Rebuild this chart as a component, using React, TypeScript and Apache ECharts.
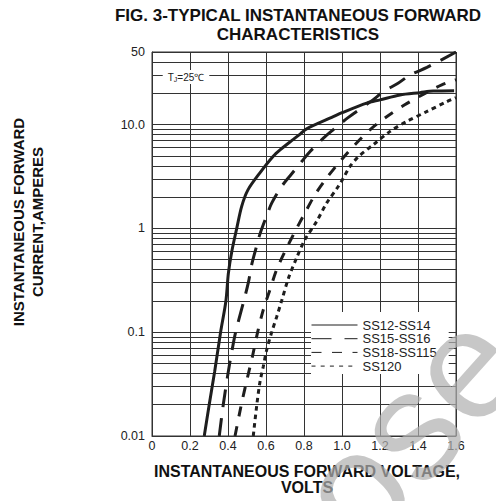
import React, { useEffect, useRef } from "react";
import * as echarts from "echarts";

const FONT = "'Liberation Sans', Arial, Helvetica, sans-serif";

const seriesNames = ["SS12-SS14", "SS15-SS16", "SS18-SS115", "SS120"];

// [forward voltage (V), forward current (A)]
const ss12Data: [number, number][] = [
  [0.275, 0.01], [0.3, 0.0195], [0.33, 0.042], [0.361, 0.1], [0.389, 0.2],
  [0.402, 0.37], [0.42, 0.6], [0.446, 1.0], [0.472, 1.63], [0.505, 2.35],
  [0.568, 3.43], [0.637, 4.93], [0.674, 5.7], [0.735, 7.0], [0.78, 8.1],
  [0.814, 9.1], [0.954, 11.9], [1.0, 13.0], [1.13, 16.1], [1.2, 17.3],
  [1.305, 19.3], [1.41, 20.3], [1.48, 21.0], [1.59, 21.2],
];
const ss15Data: [number, number][] = [
  [0.354, 0.01], [0.375, 0.02], [0.4, 0.04], [0.42, 0.065], [0.44, 0.1],
  [0.48, 0.19], [0.507, 0.3], [0.525, 0.45], [0.551, 0.68], [0.568, 0.88],
  [0.604, 1.33], [0.63, 1.75], [0.682, 2.53], [0.726, 3.2], [0.788, 4.4],
  [0.832, 5.5], [0.902, 7.4], [0.953, 8.9], [1.03, 11.6], [1.163, 17.3],
  [1.218, 20.8], [1.295, 25], [1.358, 30], [1.447, 35.5], [1.6, 50],
];
const ss18Data: [number, number][] = [
  [0.437, 0.01], [0.47, 0.02], [0.5, 0.035], [0.53, 0.06], [0.556, 0.1],
  [0.586, 0.165], [0.621, 0.257], [0.656, 0.4], [0.7, 0.6], [0.753, 0.935],
  [0.805, 1.41], [0.858, 2.11], [0.919, 3.05], [0.989, 4.4], [1.068, 6.4],
  [1.147, 8.9], [1.235, 11.9], [1.33, 15.5], [1.437, 20], [1.525, 24.1],
  [1.6, 27],
];
const ss120Data: [number, number][] = [
  [0.533, 0.01], [0.551, 0.0195], [0.568, 0.033], [0.586, 0.047], [0.604, 0.068],
  [0.63, 0.1], [0.656, 0.14], [0.682, 0.2], [0.718, 0.33], [0.761, 0.52],
  [0.805, 0.78], [0.867, 1.17], [0.919, 1.75], [0.98, 2.53], [1.007, 3.05],
  [1.042, 3.95], [1.086, 4.9], [1.165, 6.4], [1.253, 8.6], [1.34, 10.7],
  [1.445, 13.3], [1.551, 16.6], [1.6, 18.2],
];

// minor horizontal grid lines of the log axis
const minorGridValues = [
  0.02, 0.03, 0.04, 0.05, 0.06, 0.07, 0.08, 0.09,
  0.2, 0.3, 0.4, 0.5, 0.6, 0.7, 0.8, 0.9,
  2, 3, 4, 5, 6, 7, 8, 9,
  20, 30, 40,
];

const xMin = 0;
const xMax = 1.6;
const xInterval = 0.2;
const yMin = 0.01;
const yMax = 50;

const seriesDash: (number[] | "solid")[] = ["solid", [18, 11], [10, 10], [4.5, 4]];
const legendDash: (number[] | "solid")[] = ["solid", [20, 13], [10, 10.5], [4, 5.2]];
const allData = [ss12Data, ss15Data, ss18Data, ss120Data];

export default function App() {
  const ref = useRef<HTMLDivElement>(null);

  useEffect(() => {
    if (!ref.current) return;
    const chart = echarts.init(ref.current, null, { renderer: "svg" });
    const ink = "#1e1e1e";
    const gridColor = "#333333";

    const series: any[] = allData.map((d, i) => ({
      name: seriesNames[i],
      type: "line",
      data: d,
      smooth: 0.3,
      symbol: "none",
      showSymbol: false,
      silent: true,
      lineStyle: { color: ink, width: 3, type: seriesDash[i], cap: "butt" },
      itemStyle: { color: ink },
      z: 3,
    }));
    series[0].markLine = {
      silent: true,
      symbol: ["none", "none"],
      animation: false,
      label: { show: false },
      lineStyle: { color: gridColor, width: 1, type: "solid" },
      emphasis: { disabled: true },
      data: minorGridValues.map((v) => ({ yAxis: v })),
      z: 1,
    };

    const option: any = {
      animation: false,
      textStyle: { fontFamily: FONT },
      grid: {
        left: 152,
        right: 40,
        top: 52,
        bottom: 65,
        show: true,
        borderColor: gridColor,
        borderWidth: 1,
        backgroundColor: "transparent",
      },
      xAxis: {
        type: "value",
        min: xMin,
        max: xMax,
        interval: xInterval,
        axisLine: { show: true, lineStyle: { color: gridColor, width: 1 } },
        axisTick: { show: false },
        splitLine: { show: true, lineStyle: { color: gridColor, width: 1 } },
        axisLabel: {
          margin: 3,
          fontSize: 12.5,
          color: "#222",
          fontFamily: FONT,
          formatter: (v: number) => (Math.abs(v) < 1e-9 ? "0" : v.toFixed(1)),
        },
      },
      yAxis: {
        type: "log",
        logBase: 10,
        min: yMin,
        max: yMax,
        axisLine: { show: true, lineStyle: { color: gridColor, width: 1 } },
        axisTick: { show: false },
        splitLine: { show: true, lineStyle: { color: gridColor, width: 1 } },
        axisLabel: {
          margin: 7,
          fontSize: 12.5,
          color: "#222",
          fontFamily: FONT,
          showMaxLabel: true,
          formatter: (v: number) => {
            if (Math.abs(v - 10) < 1e-6) return "10.0";
            if (v >= 20) return String(Math.round(v));
            return String(+v.toPrecision(3));
          },
        },
      },
      legend: {
        orient: "vertical",
        left: 311,
        top: 312,
        z: 10,
        selectedMode: false,
        backgroundColor: "#fff",
        padding: [6.5, 12, 1.5, 0],
        itemWidth: 46,
        itemHeight: 13,
        itemGap: 0.7,
        itemTextGap: 6,
        itemStyle: { opacity: 0, borderWidth: 0 },
        textStyle: { fontSize: 13, color: "#222", fontFamily: FONT, lineHeight: 13 },
        data: seriesNames.map((n, i) => ({
          name: n,
          itemStyle: { opacity: 0, borderWidth: 0 },
          lineStyle: { width: 1, color: ink, type: legendDash[i], cap: "butt", opacity: 1 },
        })),
      },
      series,
      graphic: [
        {
          type: "text",
          z: 50,
          style: {
            text: "FIG. 3-TYPICAL INSTANTANEOUS FORWARD\nCHARACTERISTICS",
            x: 298,
            y: 6,
            align: "center",
            verticalAlign: "top",
            font: `bold 17px ${FONT}`,
            lineHeight: 19,
            fill: "#111",
          },
        },
        {
          type: "text",
          z: 50,
          style: {
            text: "INSTANTANEOUS FORWARD VOLTAGE,\nVOLTS",
            x: 307,
            y: 463,
            align: "center",
            verticalAlign: "top",
            font: `bold 16px ${FONT}`,
            lineHeight: 16.5,
            fill: "#111",
          },
        },
        {
          type: "text",
          z: 50,
          x: 18,
          y: 222,
          rotation: Math.PI / 2,
          style: {
            text: "INSTANTANEOUS FORWARD",
            x: 0,
            y: 0,
            align: "center",
            verticalAlign: "middle",
            font: `bold 15px ${FONT}`,
            fill: "#111",
          },
        },
        {
          type: "text",
          z: 50,
          x: 37,
          y: 222,
          rotation: Math.PI / 2,
          style: {
            text: "CURRENT,AMPERES",
            x: 0,
            y: 0,
            align: "center",
            verticalAlign: "middle",
            font: `bold 15px ${FONT}`,
            fill: "#111",
          },
        },
        {
          type: "text",
          z: 200,
          x: 408,
          y: 428,
          rotation: 0.84,
          style: {
            text: "ose",
            x: 0,
            y: 0,
            align: "center",
            verticalAlign: "middle",
            font: `155px ${FONT}`,
            fill: "rgba(175,175,175,0.7)",
          },
        },
      ],
    };

    chart.setOption(option);

    const p = chart.convertToPixel({ xAxisIndex: 0, yAxisIndex: 0 }, [0.179, 30]) as number[];
    chart.setOption({
      graphic: [
        {
          type: "text",
          id: "tj",
          z: 60,
          style: {
            x: p[0],
            y: p[1] + 2,
            align: "center",
            verticalAlign: "middle",
            text: "{t|T}{j|J}{t|=25℃}",
            backgroundColor: "#fff",
            padding: [1, 5, 1, 5],
            fill: "#222",
            rich: {
              t: { fontSize: 10, fontFamily: FONT, fill: "#222", lineHeight: 12, verticalAlign: "middle" },
              j: { fontSize: 7, fontFamily: FONT, fill: "#222", lineHeight: 12, verticalAlign: "bottom" },
            },
          },
        },
      ],
    });

    return () => chart.dispose();
  }, []);

  return (
    <div
      ref={ref}
      style={{ position: "fixed", left: 0, top: 0, width: 496, height: 501, background: "#fff" }}
    />
  );
}
